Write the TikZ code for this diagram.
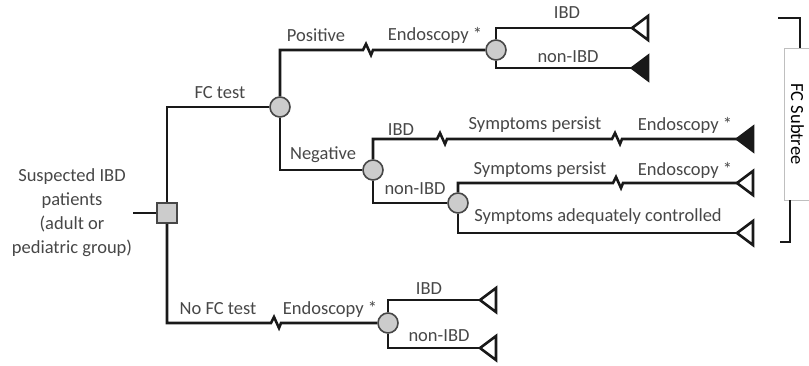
\documentclass[tikz,border=0pt]{standalone}
\usepackage{fontspec}
\setmainfont{Carlito}
\tikzset{
  every node/.style={inner sep=1pt},
  lbl/.style={text=black!72, font=\fontsize{18.5}{24}\selectfont},
  chance/.style={circle, draw=black!72, fill=black!20, line width=1.6pt, minimum size=20pt},
  decide/.style={rectangle, draw=black!72, fill=black!20, line width=1.6pt, minimum size=20pt},
  branch/.style={line width=2.6pt, draw=black!90},
  openleaf/.style={draw=black!90, fill=white, line width=2.6pt},
  shutleaf/.style={draw=black!90, fill=black!90, line width=2.6pt}
}
% break mark on a branch
\newcommand{\zig}{-- ++(3,-6) -- ++(5,11) -- ++(2,-5)}
\begin{document}
\begin{tikzpicture}[x=1pt,y=-1pt]
\useasboundingbox (0,0) rectangle (809,365);
% decision and chance nodes
\node[lbl, align=center] (pat) at (72,213) {Suspected IBD\\patients\\(adult or\\pediatric group)};
\node[decide] (d) at (167,213) {};
\node[chance] (c0) at (280,107) {};
\node[chance] (c1) at (496,50) {};
\node[chance] (c2) at (373,170) {};
\node[chance] (c3) at (458,203) {};
\node[chance] (c4) at (388,323) {};
% leaf tips
\coordinate (t1) at (632,28);
\coordinate (t2) at (632,68);
\coordinate (t3) at (737,139);
\coordinate (t4) at (737,183);
\coordinate (t5) at (737,233);
\coordinate (t6) at (480,300);
\coordinate (t7) at (480,348);
% breaks
\coordinate (z1) at (363,50);
\coordinate (z2) at (437,139);
\coordinate (z3) at (612,139);
\coordinate (z4) at (613,183);
\coordinate (z5) at (271,323);
% branches
\draw[branch] (pat) -- (d);
\draw[branch] (d) |- (c0);
\draw[branch] (d) |- (z5) \zig -- (c4);
\draw[branch] (c0) |- (z1) \zig -- (c1);
\draw[branch] (c0) |- (c2);
\draw[branch] (c1) |- (t1);
\draw[branch] (c1) |- (t2);
\draw[branch] (c2) |- (z2) \zig -- (z3) \zig -- (t3);
\draw[branch] (c2) |- (c3);
\draw[branch] (c3) |- (z4) \zig -- (t4);
\draw[branch] (c3) |- (t5);
\draw[branch] (c4) |- (t6);
\draw[branch] (c4) |- (t7);
\foreach \t in {t1,t4,t5,t6,t7}
  \draw[openleaf] (\t) -- ++(16,-12) -- ++(0,24) -- cycle;
\foreach \t in {t2,t3}
  \draw[shutleaf] (\t) -- ++(16,-12) -- ++(0,24) -- cycle;
% labels
\node[lbl] (lfc) at (220,93) {FC test};
\node[lbl] (lpos) at (316,35) {Positive};
\node[lbl] (lend1) at (435,35) {Endoscopy *};
\node[lbl] (lpibd) at (567,13) {IBD};
\node[lbl] (lpnon) at (568,57) {non-IBD};
\node[lbl] (lneg) at (323,155) {Negative};
\node[lbl] (lnibd) at (401,130) {IBD};
\node[lbl] (lsp1) at (535,125) {Symptoms persist};
\node[lbl] (lend2) at (685,125) {Endoscopy *};
\node[lbl] (lnnon) at (415,189) {non-IBD};
\node[lbl] (lsp2) at (540,170) {Symptoms persist};
\node[lbl] (lend3) at (685,170) {Endoscopy *};
\node[lbl] (lctrl) at (598,217) {Symptoms adequately controlled};
\node[lbl] (lnofc) at (218,309) {No FC test};
\node[lbl] (lend4) at (330,309) {Endoscopy *};
\node[lbl] (lqibd) at (429,289) {IBD};
\node[lbl] (lqnon) at (439,336) {non-IBD};
% subtree bracket
\node[lbl, text=black, rotate=-90, draw=black!25, fill=white, minimum width=152pt, minimum height=27pt] (sub) at (797.5,124) {FC Subtree};
\coordinate (bt) at (778,18);
\coordinate (bb) at (780,242);
\draw[branch] (bt) -| ([xshift=2.5pt]sub.west);
\draw[branch] ([xshift=-7.5pt]sub.east) |- (bb);
\end{tikzpicture}
\end{document}
